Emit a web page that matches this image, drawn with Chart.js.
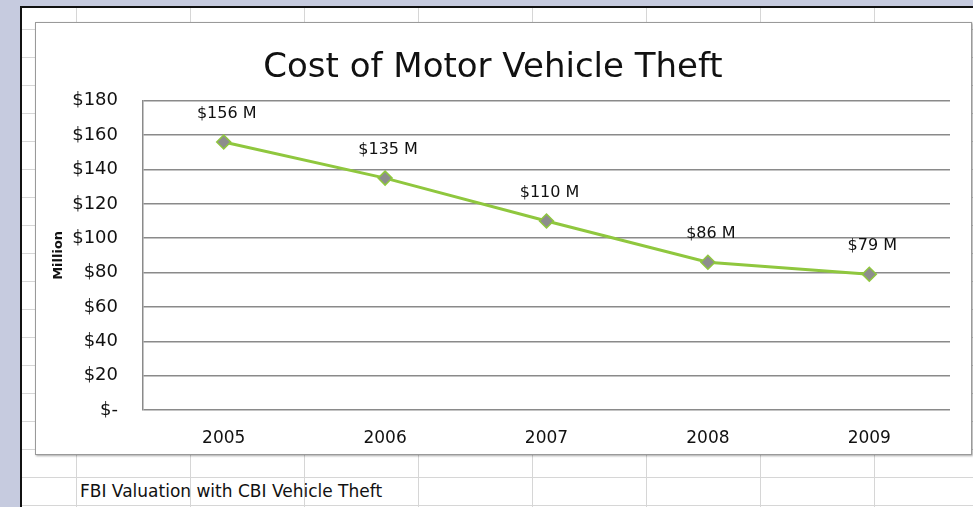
<!DOCTYPE html>
<html>
<head>
<meta charset="utf-8">
<script src="https://cdn.jsdelivr.net/npm/chart.js@4/dist/chart.umd.min.js"></script>
<style>
  html, body { margin: 0; padding: 0; }
  body { width: 973px; height: 507px; background: #c6cbdf; position: relative; overflow: hidden; font-family: "DejaVu Sans", sans-serif; }
  #sheet {
    position: absolute; left: 20px; top: 6px; right: 0; bottom: 0;
    border-left: 2px solid #111; border-top: 2px solid #111;
    background-color: #fff;
    background-image:
      linear-gradient(to right, transparent 113px, #d6d6d6 113px),
      linear-gradient(to bottom, transparent 27px, #d6d6d6 27px);
    background-size: 114px 100%, 100% 28px;
    background-position: -59px 0, 0 -6px;
  }
  #box {
    position: absolute; left: 35px; top: 22px; width: 935px; height: 431px;
    border: 1px solid #9a9a9a; background: #fff;
    box-shadow: 1px 1px 2px rgba(0,0,0,0.35);
  }
  #note {
    position: absolute; left: 80px; top: 481px; font-size: 17px; color: #111;
  }
</style>
</head>
<body>
<div id="sheet"></div>
<div id="box"><canvas id="chart" width="935" height="431"></canvas></div>
<div id="note">FBI Valuation with CBI Vehicle Theft</div>
<script>
var years = ['2005', '2006', '2007', '2008', '2009'];
var costs = [156, 135, 110, 86, 79];
var pointLabels = ['$156 M', '$135 M', '$110 M', '$86 M', '$79 M'];

var labelPlugin = {
  id: 'pointLabels',
  afterDatasetsDraw: function (chart) {
    var ctx = chart.ctx;
    var meta = chart.getDatasetMeta(0);
    ctx.save();
    ctx.font = '16px "DejaVu Sans", sans-serif';
    ctx.fillStyle = '#111';
    ctx.textAlign = 'center';
    ctx.textBaseline = 'middle';
    meta.data.forEach(function (pt, i) {
      ctx.fillText(pointLabels[i], pt.x + 3, pt.y - 28);
    });
    ctx.restore();
  }
};

new Chart(document.getElementById('chart').getContext('2d'), {
  type: 'line',
  data: {
    labels: years,
    datasets: [{
      data: costs,
      borderColor: '#8fc73e',
      borderWidth: 3,
      pointStyle: 'rectRot',
      pointRadius: 7,
      pointBackgroundColor: '#8d8d8d',
      pointBorderColor: '#8fc73e',
      pointBorderWidth: 1.5,
      tension: 0
    }]
  },
  options: {
    responsive: false,
    animation: false,
    layout: { padding: { left: 0, right: 21, top: 0, bottom: 0 } },
    plugins: {
      legend: { display: false },
      tooltip: { enabled: false },
      title: {
        display: true,
        text: 'Cost of Motor Vehicle Theft',
        color: '#111',
        font: { family: '"DejaVu Sans", sans-serif', size: 34, weight: 'normal' },
        padding: { top: 25, bottom: 12 }
      }
    },
    scales: {
      x: {
        offset: true,
        grid: { display: false },
        border: { display: false },
        ticks: { color: '#111', font: { family: '"DejaVu Sans", sans-serif', size: 17 }, padding: 10 },
        afterFit: function (scale) { scale.height = 44; }
      },
      y: {
        min: 0,
        max: 180,
        ticks: {
          stepSize: 20,
          color: '#111',
          padding: 25,
          font: { family: '"DejaVu Sans", sans-serif', size: 18 },
          callback: function (v) { return v === 0 ? '$-' : '$' + v; }
        },
        grid: { color: '#8a8a8a', lineWidth: 1.5, drawTicks: false },
        border: { display: true, color: '#8a8a8a', width: 1.5 },
        title: {
          display: true,
          text: 'Million',
          color: '#111',
          font: { family: '"DejaVu Sans", sans-serif', size: 13, weight: 'bold' },
          padding: { top: 15, bottom: 0 }
        },
        afterFit: function (scale) { scale.width = 107; }
      }
    }
  },
  plugins: [labelPlugin]
});
</script>
</body>
</html>
